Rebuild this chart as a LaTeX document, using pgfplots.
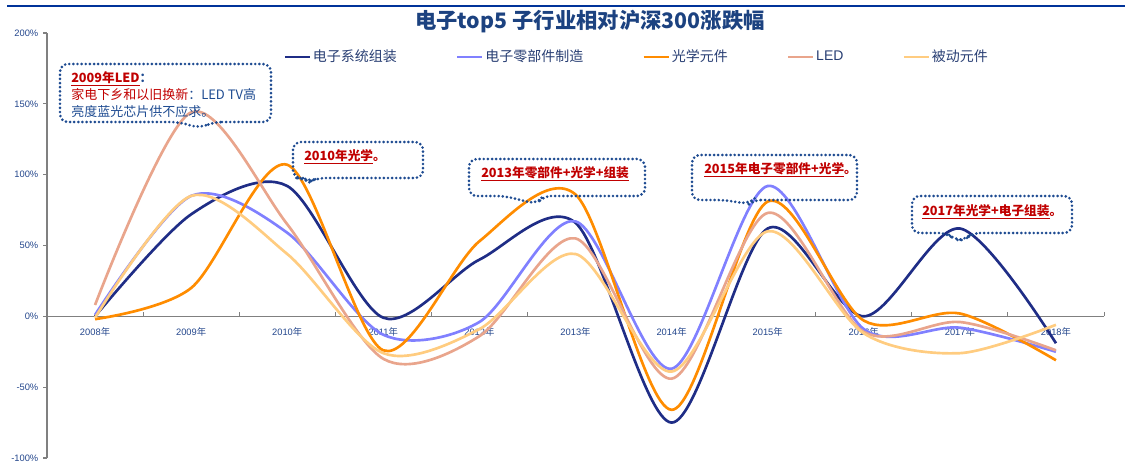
\documentclass[border=0pt]{standalone}
\usepackage{fontspec}
\setmainfont{Liberation Sans}
\newfontfamily\cjk{Noto Sans CJK SC}
\usepackage{pgfplots}
\usepackage{pgfplotstable}
\pgfplotsset{compat=1.18}

\definecolor{sysnavy}{RGB}{31,45,134}
\definecolor{partblue}{RGB}{128,128,255}
\definecolor{optorange}{RGB}{255,140,0}
\definecolor{ledsalmon}{RGB}{233,165,140}
\definecolor{passive}{RGB}{255,204,128}
\definecolor{labelblue}{RGB}{35,70,140}
\definecolor{legendtext}{RGB}{40,62,115}
\definecolor{titleblue}{RGB}{28,66,128}
\definecolor{rulenavy}{RGB}{0,51,153}
\definecolor{notered}{RGB}{192,0,0}
\definecolor{boxblue}{RGB}{30,75,145}
\definecolor{axisgray}{RGB}{128,128,128}

% yearly excess return vs CSI 300 (%), 2008 = 0 ... 2018 = 10
\pgfplotstableread{
year sys part opt led pas
0    0    1   -2    8   -1
1   72   85   20  144   85
2   92   59  107   65   44
3   -1  -13  -24  -30  -26
4   40   -4   53  -14   -9
5   66   67   86   55   44
6  -75  -37  -66  -44  -39
7   62   92   81   73   60
8    0   -9   -3  -11  -12
9   62   -8    2   -4  -26
10 -19  -25  -31  -24   -6
}\yeardata

\tikzset{callout/.style={draw=boxblue, line width=2.2pt, line cap=round,
  dash pattern=on 0pt off 3.1pt, rounded corners=6pt}}

\begin{document}
\begin{tikzpicture}
\useasboundingbox (0,0) rectangle (843.75pt,351pt);
\begin{axis}[
  at={(35.25pt,7.5pt)}, anchor=south west,
  scale only axis, width=792.75pt, height=318.75pt,
  xmin=-0.5, xmax=10.5, ymin=-100, ymax=200,
  axis x line=middle, axis y line=left,
  axis line style={-, draw=axisgray, line width=1.1pt},
  x axis line style={-}, y axis line style={-},
  xtick={0,...,10},
  xticklabels={2008{\cjk 年},2009{\cjk 年},2010{\cjk 年},2011{\cjk 年},2012{\cjk 年},2013{\cjk 年},2014{\cjk 年},2015{\cjk 年},2016{\cjk 年},2017{\cjk 年},2018{\cjk 年}},
  major x tick style={draw=none},
  minor xtick={0.5,1.5,...,10.5},
  minor x tick style={draw=axisgray, line width=0.7pt, yshift=3pt},
  minor tick length=3pt,
  ytick={-100,-50,0,50,100,150,200},
  yticklabels={-100\%,-50\%,0\%,50\%,100\%,150\%,200\%},
  y tick style={draw=axisgray, line width=0.8pt},
  major tick length=3pt,
  tick align=outside,
  xticklabel style={font=\fontsize{7}{8}\selectfont, text=labelblue, yshift=-2pt},
  yticklabel style={font=\fontsize{7}{8}\selectfont, text=labelblue},
  clip=false,
  legend columns=5,
  legend image code/.code={\draw[#1, line width=2.2pt] (0pt,0pt) -- (18.75pt,0pt);},
  legend style={at={(0.2233,0.9435)}, anchor=west, draw=none, fill=none,
    inner sep=0pt, font=\cjk\fontsize{10.5}{12}\selectfont, text=legendtext,
    nodes={inner sep=1.2pt},
    /tikz/every even column/.append style={column sep=43pt}},
]
\addplot[sysnavy, line width=2pt, smooth] table[x=year, y=sys] {\yeardata};
\addlegendentry{电子系统组装}
\addplot[partblue, line width=2pt, smooth] table[x=year, y=part] {\yeardata};
\addlegendentry{电子零部件制造}
\addplot[optorange, line width=2pt, smooth] table[x=year, y=opt] {\yeardata};
\addlegendentry{光学元件}
\addplot[ledsalmon, line width=2pt, smooth] table[x=year, y=led] {\yeardata};
\addlegendentry{\rmfamily LED}
\addplot[passive, line width=2pt, smooth] table[x=year, y=pas] {\yeardata};
\addlegendentry{被动元件}
\end{axis}

\begin{scope}[x=0.75pt, y=-0.75pt, shift={(0pt,351pt)}]
  % top rule and title
  \draw[rulenavy, line width=1.6pt] (7,6) -- (1125,6);
  \node[font=\cjk\bfseries\fontsize{16}{18}\selectfont, text=titleblue] at (590,22)
    {电子top5 子行业相对沪深300涨跌幅};

  % callout boxes
  \draw[callout] (214,122) -- (271,122) -- (271,64) -- (60,64) -- (60,122)
    -- (178,122) -- (200,128) -- cycle;
  \node[anchor=west, inner sep=0pt, font=\cjk\bfseries\fontsize{9.5}{11}\selectfont, text=notered]
    at (71,79) {\underline{2009年LED}{\color{boxblue}：}};
  \node[anchor=west, inner sep=0pt, font=\cjk\fontsize{9.75}{11}\selectfont]
    at (71,95) {{\color{notered}家电下乡和以旧换新}{\color{boxblue}：LED TV高}};
  \node[anchor=west, inner sep=0pt, font=\cjk\fontsize{9.75}{11}\selectfont, text=boxblue]
    at (71,112) {亮度蓝光芯片供不应求。};

  \draw[callout] (318,178) -- (423,178) -- (423,142) -- (293,142) -- (293,178)
    -- (303,178) -- (309,182) -- cycle;
  \node[anchor=west, inner sep=0pt, font=\cjk\bfseries\fontsize{9.5}{11}\selectfont, text=notered]
    at (304,157) {\underline{2010年光学}。};

  \draw[callout] (543,196) -- (645,196) -- (645,159) -- (469,159) -- (469,196)
    -- (504,196) -- (537,204) -- cycle;
  \node[anchor=west, inner sep=0pt, font=\cjk\bfseries\fontsize{9.5}{11}\selectfont, text=notered]
    at (481,174) {\underline{2013年零部件+光学+组装}};

  \draw[callout] (753,200) -- (857,200) -- (857,155) -- (692,155) -- (692,200)
    -- (724,200) -- (749,204) -- cycle;
  \node[anchor=west, inner sep=0pt, font=\cjk\bfseries\fontsize{9.5}{11}\selectfont, text=notered]
    at (704,170) {\underline{2015年电子零部件+光学}。};

  \draw[callout] (972,233) -- (1072,233) -- (1072,196) -- (912,196) -- (912,233)
    -- (947,233) -- (955,240) -- (965,240) -- cycle;
  \node[anchor=west, inner sep=0pt, font=\cjk\bfseries\fontsize{9.5}{11}\selectfont, text=notered]
    at (922,212) {\underline{2017年光学+电子组装}。};
\end{scope}
\end{tikzpicture}
\end{document}
